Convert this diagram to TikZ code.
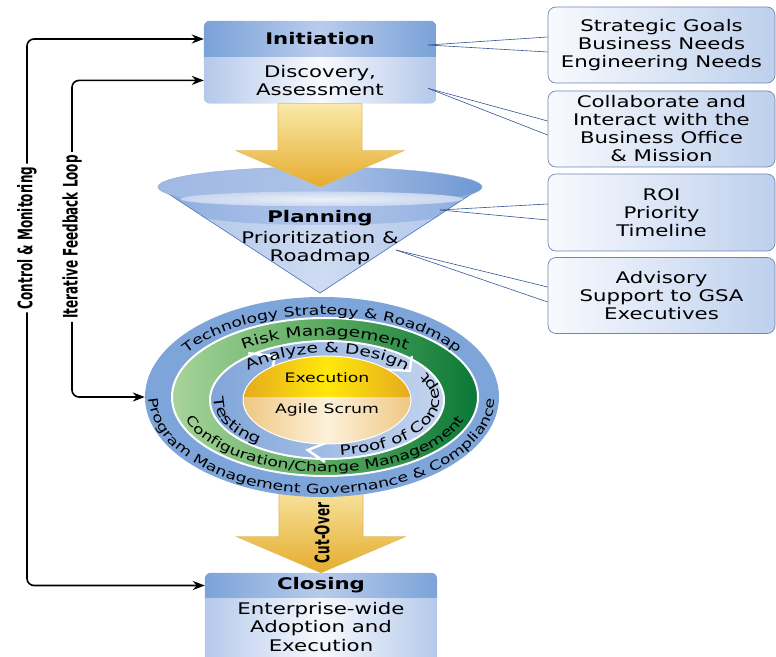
\documentclass[tikz,border=0pt]{standalone}
\usepackage{fontspec}
\setmainfont{DejaVu Sans}
\newfontfamily\widefont[FakeStretch=1.33]{DejaVu Sans}
\newfontfamily\narrowfont[FakeStretch=0.6]{DejaVu Sans}
\newcommand{\ringfont}{\widefont\fontsize{13}{15}\selectfont}
\newcommand{\sprintfont}{\widefont\fontsize{14}{16}\selectfont}
\usepackage{tikz}
\usetikzlibrary{shapes.geometric, arrows.meta, positioning, calc, backgrounds, decorations.text}
\definecolor{headedge}{RGB}{122, 162, 216}
\definecolor{headmid}{RGB}{186, 204, 236}
\definecolor{bodyedge}{RGB}{180, 200, 234}
\definecolor{bodymid}{RGB}{248, 250, 254}
\definecolor{closeedge}{RGB}{124, 163, 217}
\definecolor{closemid}{RGB}{185, 203, 235}
\definecolor{adoptedge}{RGB}{181, 201, 235}
\definecolor{adoptmid}{RGB}{247, 249, 254}
\definecolor{calloutleft}{RGB}{248, 250, 254}
\definecolor{calloutright}{RGB}{190, 208, 237}
\definecolor{calloutline}{RGB}{110, 135, 178}
\definecolor{callinecolor}{RGB}{50, 85, 150}
\definecolor{ringblue}{RGB}{126, 165, 217}
\definecolor{greenlight}{RGB}{168, 212, 155}
\definecolor{greenmid}{RGB}{88, 170, 95}
\definecolor{greendark}{RGB}{10, 120, 55}
\definecolor{sprintdark}{RGB}{128, 165, 217}
\definecolor{sprintlight}{RGB}{196, 212, 239}
\definecolor{execedge}{RGB}{230, 170, 30}
\definecolor{execmid}{RGB}{255, 232, 10}
\definecolor{scrumedge}{RGB}{238, 200, 130}
\definecolor{scrummid}{RGB}{253, 241, 218}
\definecolor{goldtop}{RGB}{250, 233, 170}
\definecolor{goldbottom}{RGB}{229, 172, 45}
\definecolor{goldedge}{RGB}{224, 184, 92}
\definecolor{coneedge}{RGB}{172, 195, 232}
\definecolor{conemid}{RGB}{206, 219, 242}
\definecolor{bandedge}{RGB}{140, 172, 222}
\definecolor{bandmid}{RGB}{178, 199, 235}
\definecolor{rimleft}{RGB}{160, 185, 228}
\definecolor{rimmid}{RGB}{172, 194, 231}
\definecolor{rimright}{RGB}{112, 152, 212}
\definecolor{openingin}{RGB}{236, 241, 250}
\definecolor{openingout}{RGB}{200, 214, 238}
\definecolor{funnelline}{RGB}{88, 124, 188}

\begin{document}
\begin{tikzpicture}[x=1pt, y=1pt,
    headbox/.style={minimum width=232, inner sep=0, font=\widefont\bfseries\fontsize{16}{18}\selectfont},
    bodybox/.style={minimum width=232, inner sep=0, align=center, font=\widefont\fontsize{16}{18.5}\selectfont},
    callout/.style={draw=calloutline, line width=0.7, rounded corners=8, left color=calloutleft, right color=calloutright, minimum width=227, minimum height=76, inner sep=0, align=center, font=\widefont\fontsize{16}{18}\selectfont},
    callline/.style={draw=callinecolor, line width=0.6},
    loopline/.style={line width=1.6, rounded corners=7, -{Stealth[length=12, width=9]}},
    looplabel/.style={rotate=90, inner sep=3, font=\narrowfont\bfseries\fontsize{20}{22}\selectfont},
    ring/.style={ellipse, inner sep=0},
    bigarrow/.style={top color=goldtop, bottom color=goldbottom, draw=goldedge, line width=0.6},
    ringtext/.style={decorate, decoration={text along path, text align=center, text={#1}}}
]
\useasboundingbox (0,0) rectangle (776,656);

% Initiation
\node[headbox, minimum height=36] (init) at (320,617) {Initiation};
\node[bodybox, minimum height=46, below=0pt of init] (disc) {Discovery,\\Assessment};

% Closing
\node[headbox, minimum height=25] (closing) at (321,70.5) {Closing};
\node[bodybox, minimum height=57, below=0pt of closing] (adopt) {Enterprise-wide\\Adoption and\\Execution};

\begin{scope}[on background layer]
  \begin{scope}
    \clip[rounded corners=6] (init.north west) rectangle (disc.south east);
    \shade[left color=headedge, right color=headedge, middle color=headmid] (init.north west) rectangle (init.south east);
    \shade[left color=bodyedge, right color=bodyedge, middle color=bodymid] (disc.north west) rectangle (disc.south east);
  \end{scope}
  \begin{scope}
    \clip[rounded corners=6] (closing.north west) rectangle ($(adopt.south east)+(0,-10)$);
    \shade[left color=closeedge, right color=closeedge, middle color=closemid] (closing.north west) rectangle (closing.south east);
    \shade[left color=adoptedge, right color=adoptedge, middle color=adoptmid] (adopt.north west) rectangle ($(adopt.south east)+(0,-10)$);
  \end{scope}
\end{scope}

% Planning funnel
\coordinate (rim) at (320,469);
\coordinate (spout) at (320,363);
\shade[left color=coneedge, right color=coneedge, middle color=conemid] (158,469) -- (spout) -- (482,469) -- cycle;
\shade[left color=bandedge, right color=bandedge, middle color=bandmid] (158,469) -- (201,441) arc[start angle=180, end angle=360, x radius=119, y radius=10] -- (482,469) -- cycle;
\draw[funnelline, line width=0.7] (158,469) -- (spout) -- (482,469);
\shade[left color=rimleft, right color=rimright, middle color=rimmid, draw=funnelline!60!white, line width=0.5] (rim) ellipse[x radius=162, y radius=20];
\shade[inner color=openingin, outer color=openingout] (322,457) ellipse[x radius=141, y radius=7.5];
\node[font=\widefont\bfseries\fontsize{16}{18}\selectfont] (plan) at (320,438) {Planning};
\node[bodybox] (prio) at (320,408) {Prioritization \&\\Roadmap};
\coordinate (rimpin) at (440,446);
\coordinate (roadpin) at (396,406);

% Arrow into the funnel
\shade[bigarrow] ($(disc.south)+(-42,0)$) -- ($(disc.south)+(-42,-47)$) -- ($(disc.south)+(-84,-47)$) -- (rim)
  -- ($(disc.south)+(84,-47)$) -- ($(disc.south)+(42,-47)$) -- ($(disc.south)+(42,0)$) -- cycle;

% Cut-over arrow
\shade[bigarrow] ($(closing.north)+(-42,92)$) -- ($(closing.north)+(-42,36)$) -- ($(closing.north)+(-84,36)$) -- (closing.north)
  -- ($(closing.north)+(84,36)$) -- ($(closing.north)+(42,36)$) -- ($(closing.north)+(42,92)$) -- cycle;

% Execution rings
\node[ring, minimum width=354, minimum height=200, fill=ringblue] (outer) at (322,259) {};
\node[ring, minimum width=306, minimum height=158, draw=white, line width=2, left color=greenlight, right color=greendark, middle color=greenmid] (green) at (325,259) {};
\node[ring, minimum width=234, minimum height=118, draw=white, line width=2, left color=sprintdark, right color=sprintlight] (sprint) at (327,256) {};
\draw[white, line width=2.5] ($(sprint.center)+(131:120 and 62)$) -- ($(sprint.center)+(121:101 and 51)$) -- ($(sprint.center)+(131:83 and 43)$);
\draw[white, line width=2.5] ($(sprint.center)+(45:120 and 62)$) -- ($(sprint.center)+(35:101 and 51)$) -- ($(sprint.center)+(45:83 and 43)$);
\draw[white, line width=2.5] ($(sprint.center)+(269:120 and 62)$) -- ($(sprint.center)+(259:101 and 51)$) -- ($(sprint.center)+(269:83 and 43)$);
\node[ring, minimum width=168, minimum height=88] (core) at (327,256) {};
\begin{scope}
  \clip (core.center) ellipse[x radius=84, y radius=44];
  \shade[left color=scrumedge, right color=scrumedge, middle color=scrummid] ($(core.center)+(-84,-44)$) rectangle ($(core.center)+(84,3)$);
  \shade[left color=execedge, right color=execedge, middle color=execmid] ($(core.center)+(-84,3)$) rectangle ($(core.center)+(84,44)$);
\end{scope}
\draw[white, line width=1] (core.center) ellipse[x radius=84, y radius=44];
\node[font=\ringfont] (exec) at (327,278) {Execution};
\node[font=\ringfont] (scrum) at (327,246) {Agile Scrum};

% Ring labels
\path[ringtext={|\ringfont|Technology Strategy {\&} Roadmap}] ($(outer.center)+(175:160 and 82)$) arc[start angle=175, end angle=5, x radius=160, y radius=82];
\path[ringtext={|\ringfont|Program Management Governance {\&} Compliance}] ($(outer.center)+(176:173 and 97)$) arc[start angle=176, end angle=364, x radius=173, y radius=97];
\path[ringtext={|\sprintfont|Risk Management}] ($(green.center)+(160:128 and 61)$) arc[start angle=160, end angle=20, x radius=128, y radius=61];
\path[ringtext={|\ringfont|Configuration/Change Management}] ($(green.center)+(175:146 and 75)$) arc[start angle=175, end angle=365, x radius=146, y radius=75];
\path[ringtext={|\sprintfont|Analyze {\&} Design}] ($(sprint.center)+(170:100 and 47)$) arc[start angle=170, end angle=10, x radius=100, y radius=47];
\path[ringtext={|\sprintfont|Proof of Concept}] ($(sprint.center)+(-105:113 and 56)$) arc[start angle=-105, end angle=57, x radius=113, y radius=56];
\path[ringtext={|\sprintfont|Testing}] ($(sprint.center)+(165:113 and 56)$) arc[start angle=165, end angle=240, x radius=113, y radius=56];

\node[rotate=90, font=\narrowfont\bfseries\fontsize{20}{22}\selectfont] (cutover) at (322,123) {Cut-Over};

% Callouts
\node[callout] (goals) at (661.5,611) {Strategic Goals\\Business Needs\\Engineering Needs};
\node[callout] (collab) at (661.5,527) {Collaborate and\\Interact with the\\Business Office\\\& Mission};
\node[callout, minimum height=77] (roi) at (661.5,443.5) {ROI\\Priority\\Timeline};
\node[callout] (advisory) at (661.5,360.5) {Advisory\\Support to GSA\\Executives};
\draw[callline] ($(init.east)+(-8,-6)$) -- ($(goals.west)+(0,8)$);
\draw[callline] ($(init.east)+(-8,-6)$) -- ($(goals.west)+(0,-7)$);
\draw[callline] ($(disc.east)+(-8,-8)$) -- ($(collab.west)+(0,8)$);
\draw[callline] ($(disc.east)+(-8,-8)$) -- ($(collab.west)+(0,-6)$);
\draw[callline] (rimpin) -- ($(roi.west)+(0,8.5)$);
\draw[callline] (rimpin) -- ($(roi.west)+(0,-7.5)$);
\draw[callline] (roadpin) -- ($(advisory.west)+(0,8.5)$);
\draw[callline] (roadpin) -- ($(advisory.west)+(0,-6.5)$);

% Feedback loops
\node[looplabel] (ctrl) at (27,418) {Control \& Monitoring};
\node[looplabel] (iter) at (72,419) {Iterative Feedback Loop};
\draw[loopline] (ctrl.east) |- (init.west);
\draw[loopline] (ctrl.west) |- (closing.west);
\draw[loopline] (iter.east) |- (disc.west);
\draw[loopline] (iter.west) |- (outer.west);
\end{tikzpicture}
\end{document}
